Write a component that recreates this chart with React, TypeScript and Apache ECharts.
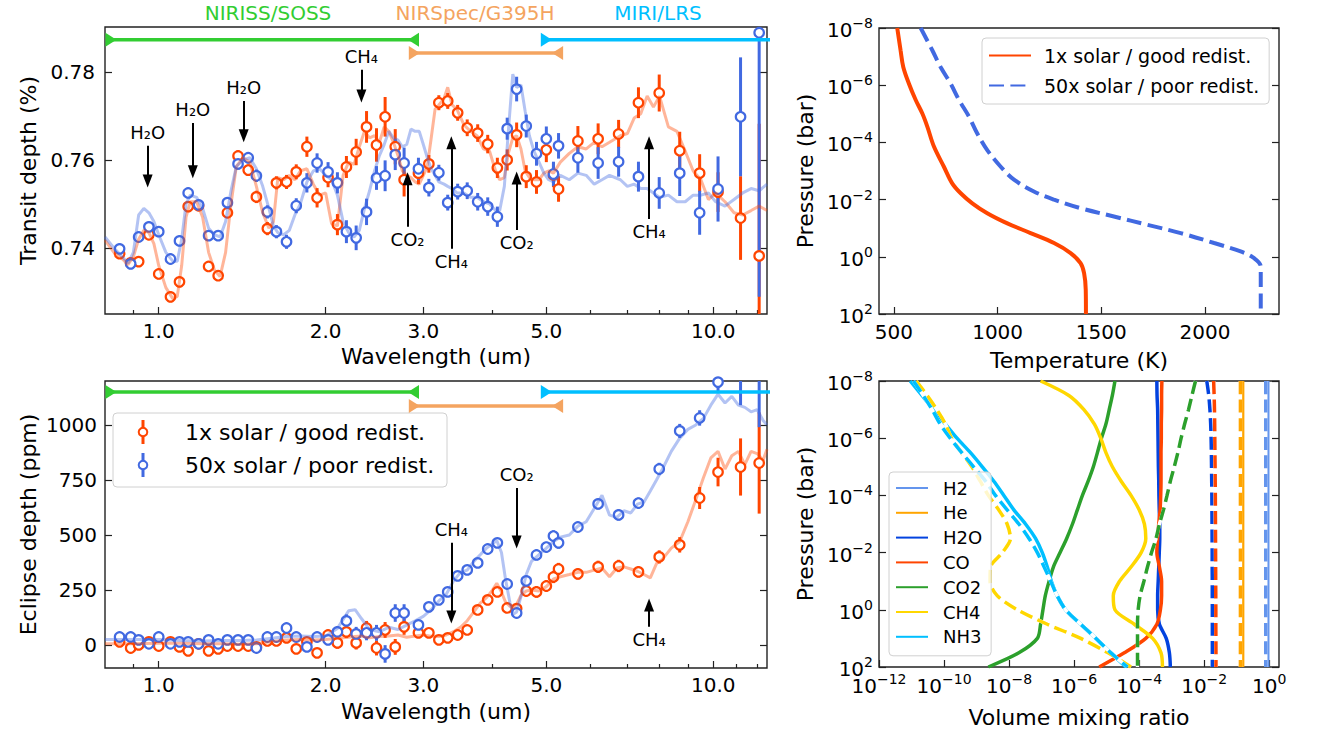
import React, { useEffect, useRef } from "react";
import * as echarts from "echarts";

const FONT = "DejaVu Sans";
const C1 = "#FF4500";
const C50 = "#4169E1";

// ---------- binned spectra ----------
const wavelengths = [0.85, 0.89, 0.92, 0.96, 1.0, 1.05, 1.09, 1.13, 1.18, 1.23, 1.28, 1.33, 1.39, 1.45, 1.5, 1.57, 1.63, 1.7, 1.77, 1.85, 1.93, 2.02, 2.1, 2.18, 2.27, 2.37, 2.47, 2.56, 2.67, 2.77, 2.94, 3.07, 3.2, 3.32, 3.46, 3.6, 3.76, 3.92, 4.08, 4.25, 4.42, 4.6, 4.8, 5.0, 5.15, 5.26, 5.7, 6.2, 6.75, 7.33, 7.99, 8.7, 9.45, 10.2, 11.2, 12.1];

const transit1x = [0.7387, 0.7366, 0.7369, 0.743, 0.7341, 0.7289, 0.7323, 0.7494, 0.7496, 0.7358,
  0.7337, 0.748, 0.7609, 0.7577, 0.7516, 0.7444, 0.7548, 0.755, 0.7573, 0.763,
  0.7514, 0.756, 0.7453, 0.7584, 0.7618, 0.7675, 0.7634, 0.7698, 0.763, 0.7555,
  0.757, 0.7591, 0.773, 0.7734, 0.7707, 0.7673, 0.7661, 0.7636, 0.7582, 0.76,
  0.7657, 0.7562, 0.755, 0.7623, 0.7566, 0.7534, 0.7643, 0.7648, 0.7659, 0.773,
  0.7752, 0.7621, 0.757, 0.7527, 0.7468, 0.7382];
const transit1xErr = [0.0012, 0.0012, 0.0012, 0.0012, 0.0012, 0.0012, 0.0012, 0.0012, 0.0012, 0.0012,
  0.0012, 0.0012, 0.0013, 0.0013, 0.0014, 0.0015, 0.0015, 0.0016, 0.0017, 0.0023,
  0.0022, 0.0022, 0.0024, 0.0025, 0.003, 0.0036, 0.0038, 0.0045, 0.004, 0.0038,
  0.0025, 0.002, 0.0017, 0.0018, 0.0018, 0.0019, 0.002, 0.0021, 0.0023, 0.0024,
  0.0028, 0.0026, 0.0027, 0.0028, 0.0028, 0.0029, 0.0034, 0.0035, 0.0032, 0.0035,
  0.0042, 0.0043, 0.0043, 0.0045, 0.0095, 0.03];
const transit50x = [0.7398, 0.7364, 0.7425, 0.7448, 0.7437, 0.7375, 0.7416, 0.7525, 0.7498, 0.7428,
  0.7428, 0.7503, 0.7591, 0.7605, 0.7564, 0.7482, 0.7437, 0.7414, 0.7496, 0.7548,
  0.7593, 0.7573, 0.7548, 0.7437, 0.7423, 0.7482, 0.7559, 0.7564, 0.7612, 0.7593,
  0.758, 0.7537, 0.7571, 0.7503, 0.7528, 0.753, 0.7505, 0.7494, 0.7471, 0.7671,
  0.7761, 0.7677, 0.7614, 0.7648, 0.7568, 0.7632, 0.7605, 0.7593, 0.7596, 0.7562,
  0.7525, 0.757, 0.748, 0.7534, 0.7698, 0.7889];
const transit50xErr = [0.0012, 0.0012, 0.0012, 0.0012, 0.0012, 0.0012, 0.0012, 0.0012, 0.0012, 0.0012,
  0.0012, 0.0012, 0.0013, 0.0013, 0.0014, 0.0015, 0.0015, 0.0016, 0.0017, 0.0022,
  0.0022, 0.0022, 0.0024, 0.0026, 0.0028, 0.003, 0.0027, 0.0035, 0.0035, 0.0035,
  0.0025, 0.002, 0.0018, 0.0018, 0.0018, 0.0019, 0.002, 0.0021, 0.0023, 0.0025,
  0.0028, 0.0026, 0.0027, 0.0028, 0.0028, 0.0029, 0.0034, 0.0036, 0.0034, 0.0034,
  0.0036, 0.0052, 0.005, 0.0074, 0.0135, 0.06];

const eclipse1x = [14, -14, 0, 14, -5, 14, -9, -27, 5, -27,
  -18, -5, -5, -5, -9, 18, 18, 32, -18, 14,
  -36, 45, 9, 59, 9, 77, -14, 68, -9, 82,
  55, 55, 23, 32, 45, 68, 159, 205, 241, 168,
  165, 245, 241, 268, 309, 345, 323, 355, 359, 332,
  400, 455, 668, 786, 809, 827];
const eclipse1xErr = [14, 14, 14, 14, 14, 14, 14, 14, 14, 14,
  14, 14, 14, 14, 14, 16, 16, 18, 18, 20,
  22, 24, 26, 28, 30, 32, 34, 36, 36, 36,
  20, 18, 16, 16, 16, 18, 20, 20, 22, 22,
  24, 24, 26, 26, 28, 28, 25, 28, 28, 25,
  30, 35, 50, 65, 130, 230];
const eclipse50x = [36, 36, 23, 5, 36, 5, 14, 14, 5, 23,
  5, 23, 23, 23, -14, 36, 36, 77, 36, -9,
  36, 23, 59, 109, 50, 55, 55, -41, 145, 145,
  91, 173, 205, 241, 314, 341, 373, 436, 464, 277,
  145, 291, 409, 445, 495, 464, 536, 641, 591, 645,
  800, 973, 1032, 1195, 1260, 1250];
const eclipse50xErr = [14, 14, 14, 14, 14, 14, 14, 14, 14, 14,
  14, 14, 14, 14, 16, 16, 16, 18, 18, 20,
  22, 24, 26, 30, 32, 34, 36, 40, 40, 40,
  20, 18, 16, 16, 16, 18, 18, 20, 22, 22,
  22, 24, 24, 24, 26, 26, 22, 25, 25, 25,
  28, 32, 35, 50, 170, 260];

// ---------- model spectra ----------
const transitModelWl = [0.8, 0.83, 0.86, 0.88, 0.9, 0.92, 0.94, 0.96, 0.98, 1.0, 1.03, 1.06, 1.08, 1.1, 1.12, 1.14, 1.17, 1.2, 1.23, 1.26, 1.29, 1.32, 1.35, 1.38, 1.42, 1.46, 1.5, 1.54, 1.58, 1.61, 1.64, 1.68, 1.72, 1.76, 1.8, 1.85, 1.9, 1.95, 2.0, 2.05, 2.1, 2.15, 2.2, 2.25, 2.3, 2.35, 2.4, 2.45, 2.5, 2.55, 2.6, 2.65, 2.7, 2.75, 2.8, 2.85, 2.9, 2.95, 3.0, 3.05, 3.1, 3.15, 3.2, 3.27, 3.32, 3.38, 3.45, 3.55, 3.65, 3.75, 3.85, 3.95, 4.05, 4.12, 4.2, 4.27, 4.35, 4.42, 4.5, 4.58, 4.66, 4.75, 4.85, 4.95, 5.05, 5.15, 5.3, 5.5, 5.7, 5.9, 6.1, 6.3, 6.5, 6.8, 7.0, 7.2, 7.4, 7.6, 7.8, 8.0, 8.3, 8.6, 8.9, 9.2, 9.5, 9.8, 10.1, 10.5, 10.9, 11.3, 11.7, 12.1, 12.5];
const transitModel1x = [0.7418, 0.739, 0.7375, 0.7362, 0.738, 0.742, 0.744, 0.7435, 0.741, 0.736, 0.731, 0.7285, 0.729, 0.736, 0.747, 0.7505, 0.7505, 0.747, 0.739, 0.735, 0.7335, 0.739, 0.75, 0.7585, 0.7605, 0.7595, 0.754, 0.748, 0.7445, 0.746, 0.756, 0.7555, 0.7565, 0.7555, 0.7575, 0.758, 0.7545, 0.752, 0.7525, 0.7455, 0.745, 0.7565, 0.7595, 0.759, 0.763, 0.7665, 0.765, 0.7655, 0.764, 0.7675, 0.7665, 0.764, 0.761, 0.7575, 0.7565, 0.756, 0.755, 0.7545, 0.7565, 0.7585, 0.765, 0.7715, 0.7725, 0.774, 0.7765, 0.7725, 0.7715, 0.768, 0.7665, 0.7655, 0.7625, 0.762, 0.7575, 0.7555, 0.756, 0.7615, 0.765, 0.7655, 0.7625, 0.7575, 0.756, 0.7555, 0.7555, 0.757, 0.7575, 0.757, 0.7595, 0.7615, 0.763, 0.7625, 0.764, 0.763, 0.764, 0.7655, 0.766, 0.7695, 0.7705, 0.7745, 0.772, 0.7745, 0.7675, 0.7665, 0.762, 0.7575, 0.7555, 0.751, 0.7525, 0.7505, 0.748, 0.7475, 0.7485, 0.7495, 0.7485];
const transitModel50x = [0.7425, 0.74, 0.738, 0.7365, 0.739, 0.7475, 0.749, 0.748, 0.746, 0.743, 0.739, 0.737, 0.737, 0.742, 0.75, 0.752, 0.7515, 0.749, 0.7445, 0.743, 0.7425, 0.746, 0.753, 0.7585, 0.76, 0.7605, 0.758, 0.754, 0.749, 0.745, 0.7435, 0.743, 0.744, 0.7475, 0.75, 0.755, 0.7575, 0.758, 0.7565, 0.7555, 0.752, 0.746, 0.7435, 0.7425, 0.744, 0.749, 0.753, 0.7575, 0.761, 0.7635, 0.7665, 0.765, 0.7645, 0.763, 0.7635, 0.767, 0.7665, 0.7665, 0.7635, 0.7605, 0.758, 0.7565, 0.755, 0.7545, 0.754, 0.7535, 0.7525, 0.7525, 0.7515, 0.7515, 0.7505, 0.75, 0.7485, 0.7485, 0.754, 0.7665, 0.7795, 0.7765, 0.777, 0.771, 0.7655, 0.762, 0.7595, 0.757, 0.7555, 0.755, 0.7565, 0.7555, 0.757, 0.7565, 0.7545, 0.7555, 0.7565, 0.7555, 0.754, 0.7545, 0.7535, 0.7535, 0.7525, 0.7515, 0.752, 0.7505, 0.7505, 0.752, 0.752, 0.7525, 0.7505, 0.7495, 0.751, 0.7525, 0.7535, 0.753, 0.7545];

const eclipseModelWl = [0.8, 0.9, 1.0, 1.1, 1.2, 1.3, 1.4, 1.5, 1.6, 1.7, 1.8, 1.9, 2.0, 2.1, 2.2, 2.26, 2.32, 2.4, 2.5, 2.6, 2.7, 2.8, 2.9, 3.0, 3.1, 3.2, 3.3, 3.4, 3.5, 3.6, 3.7, 3.8, 3.9, 4.0, 4.07, 4.15, 4.22, 4.3, 4.36, 4.42, 4.5, 4.6, 4.7, 4.85, 5.0, 5.15, 5.3, 5.5, 5.7, 5.9, 6.1, 6.3, 6.5, 6.7, 6.9, 7.1, 7.3, 7.5, 7.7, 7.9, 8.1, 8.4, 8.7, 9.0, 9.3, 9.6, 9.9, 10.2, 10.5, 10.8, 11.1, 11.4, 11.7, 12.0, 12.3, 12.5];
const eclipseModel1x = [5, 5, 8, 8, 5, 5, 3, 5, 15, 22, 25, 22, 25, 30, 35, 38, 40, 32, 38, 40, 45, 35, 40, 45, 40, 38, 45, 60, 80, 110, 150, 190, 215, 250, 280, 240, 195, 175, 170, 185, 225, 245, 250, 245, 265, 300, 310, 320, 330, 330, 340, 350, 310, 350, 355, 345, 335, 320, 305, 370, 390, 440, 470, 560, 660, 760, 850, 880, 800, 860, 880, 820, 880, 870, 840, 890];
const eclipseModel50x = [25, 25, 25, 20, 18, 20, 20, 22, 30, 38, 40, 38, 40, 75, 155, 160, 120, 70, 60, 80, 70, 90, 110, 130, 160, 200, 230, 290, 330, 340, 380, 410, 440, 460, 475, 420, 300, 190, 140, 150, 220, 320, 380, 410, 440, 470, 490, 500, 540, 560, 620, 680, 590, 580, 610, 600, 640, 650, 700, 750, 800, 880, 940, 980, 1000, 1030, 1090, 1140, 1100, 1130, 1090, 1080, 1060, 1070, 1020, 1000];

// ---------- instruments ----------
const instrumentNames = ["NIRISS/SOSS", "NIRSpec/G395H", "MIRI/LRS"];
const instrumentColors = ["#32CD32", "#F4A460", "#00BFFF"];
const instrumentStart = [0.82, 2.89, 5.0];
const instrumentEnd = [2.88, 5.24, 14];
const instrumentLevelTransit = [0.7873, 0.7843, 0.7873];
const instrumentLevelEclipse = [1150, 1086, 1150];

// ---------- annotations ----------
const transitAnnLabels = ["H₂O", "H₂O", "H₂O", "CH₄", "CO₂", "CH₄", "CO₂", "CH₄"];
const transitAnnWl = [0.955, 1.152, 1.423, 2.32, 2.81, 3.37, 4.42, 7.66];
const transitAnnFrom = [0.7632, 0.7684, 0.7734, 0.7805, 0.7448, 0.7398, 0.7441, 0.7466];
const transitAnnTo = [0.7552, 0.7573, 0.7655, 0.7745, 0.7557, 0.7639, 0.7559, 0.7639];
const eclipseAnnLabels = ["CH₄", "CO₂", "CH₄"];
const eclipseAnnWl = [3.37, 4.42, 7.66];
const eclipseAnnFrom = [464, 714, 82];
const eclipseAnnTo = [127, 468, 182];

// ---------- P-T profiles ----------
const pt1xPressure = [1e-8, 6e-8, 2.3e-7, 8.7e-7, 3.3e-6, 9.8e-6, 2.8e-5, 1.4e-4, 7.1e-4, 2.7e-3, 6.0e-3, 1.35e-2, 3.0e-2, 6.8e-2, 0.148, 0.33, 0.74, 1.66, 3.7, 14, 100];
const pt1xTemp = [516, 532, 545, 572, 605, 637, 661, 693, 741, 781, 822, 878, 950, 1047, 1159, 1272, 1352, 1400, 1417, 1425, 1426];
const pt50xPressure = [1e-8, 6e-8, 2.3e-7, 8.7e-7, 3.3e-6, 1.26e-5, 4.9e-5, 1.86e-4, 7.1e-4, 2.0e-3, 5.2e-3, 1.0e-2, 2.0e-2, 3.9e-2, 7.6e-2, 0.148, 0.33, 0.65, 1.12, 2.2, 100];
const pt50xTemp = [629, 685, 725, 773, 814, 862, 902, 950, 1015, 1079, 1175, 1272, 1400, 1561, 1722, 1883, 2044, 2172, 2237, 2269, 2269];

// ---------- abundance profiles ----------
const vmrPressure = [1e-8, 3.2e-8, 1e-7, 3.2e-7, 1e-6, 3.2e-6, 1e-5, 3.2e-5, 1e-4, 3.2e-4, 1e-3, 3.2e-3, 1e-2, 3.2e-2, 0.1, 0.32, 1, 3.2, 10, 32, 100];
const species = ["H2", "He", "H2O", "CO", "CO2", "CH4", "NH3"];
const speciesColors = ["#6495ED", "#FFA500", "#0343DF", "#FF4500", "#2CA02C", "#FFD700", "#00BFFF"];
const h2_1x = [0.9, 0.9, 0.9, 0.9, 0.9, 0.9, 0.9, 0.9, 0.9, 0.9, 0.9, 0.9, 0.9, 0.9, 0.9, 0.9, 0.9, 0.9, 0.9, 0.9, 0.9];
const he_1x = [0.152, 0.152, 0.152, 0.152, 0.152, 0.152, 0.152, 0.152, 0.152, 0.152, 0.152, 0.152, 0.152, 0.152, 0.152, 0.152, 0.152, 0.152, 0.152, 0.152, 0.152];
const h2o_1x = [3.5e-4, 3.55e-4, 3.7e-4, 3.75e-4, 3.8e-4, 3.85e-4, 3.9e-4, 4.0e-4, 4.05e-4, 4.15e-4, 4.3e-4, 4.3e-4, 4.15e-4, 4.0e-4, 3.85e-4, 3.7e-4, 3.7e-4, 4.2e-4, 6.8e-4, 8.5e-4, 9.1e-4];
const co_1x = [5.0e-4, 4.9e-4, 4.9e-4, 4.8e-4, 4.8e-4, 4.7e-4, 4.7e-4, 4.7e-4, 4.6e-4, 4.4e-4, 4.0e-4, 3.7e-4, 3.5e-4, 4.2e-4, 4.9e-4, 4.9e-4, 4.5e-4, 3.5e-4, 1.6e-4, 3.5e-5, 5.9e-6];
const co2_1x = [1.8e-5, 1.5e-5, 1.2e-5, 9.5e-6, 6.9e-6, 5.2e-6, 3.9e-6, 2.7e-6, 1.8e-6, 1.26e-6, 8.9e-7, 5.9e-7, 3.7e-7, 2.3e-7, 1.7e-7, 1.3e-7, 1.1e-7, 9.3e-8, 7.4e-8, 2.0e-8, 2.3e-9];
const ch4_1x = [9.3e-8, 6.9e-7, 2.0e-6, 4.2e-6, 6.6e-6, 9.5e-6, 1.5e-5, 2.8e-5, 5.6e-5, 1.0e-4, 1.45e-4, 1.6e-4, 1.15e-4, 5.6e-5, 2.5e-5, 1.6e-5, 1.8e-5, 7.1e-5, 2.6e-4, 4.7e-4, 5.2e-4];
const nh3_1x = [9.1e-12, 2.1e-11, 4.8e-11, 1.1e-10, 2.5e-10, 6.5e-10, 1.5e-9, 3.4e-9, 6.9e-9, 1.4e-8, 3.2e-8, 6.5e-8, 1.05e-7, 1.5e-7, 2.0e-7, 3.0e-7, 5.5e-7, 1.6e-6, 4.7e-6, 1.35e-5, 3.9e-5];
const h2_50x = [0.78, 0.78, 0.78, 0.78, 0.78, 0.78, 0.78, 0.78, 0.78, 0.78, 0.78, 0.78, 0.78, 0.78, 0.78, 0.78, 0.78, 0.78, 0.78, 0.78, 0.78];
const he_50x = [0.13, 0.13, 0.13, 0.13, 0.13, 0.13, 0.13, 0.13, 0.13, 0.13, 0.13, 0.13, 0.13, 0.13, 0.13, 0.13, 0.13, 0.13, 0.13, 0.13, 0.13];
const h2o_50x = [1.2e-2, 1.38e-2, 1.5e-2, 1.58e-2, 1.63e-2, 1.66e-2, 1.68e-2, 1.7e-2, 1.72e-2, 1.73e-2, 1.74e-2, 1.75e-2, 1.76e-2, 1.76e-2, 1.77e-2, 1.77e-2, 1.78e-2, 1.78e-2, 1.78e-2, 1.78e-2, 1.78e-2];
const co_50x = [1.95e-2, 2.02e-2, 2.07e-2, 2.1e-2, 2.12e-2, 2.14e-2, 2.16e-2, 2.18e-2, 2.2e-2, 2.21e-2, 2.22e-2, 2.23e-2, 2.24e-2, 2.25e-2, 2.26e-2, 2.27e-2, 2.28e-2, 2.28e-2, 2.29e-2, 2.3e-2, 2.3e-2];
const co2_50x = [5.4e-3, 4.2e-3, 3.3e-3, 2.5e-3, 1.95e-3, 1.55e-3, 1.2e-3, 9.1e-4, 7.2e-4, 5.6e-4, 4.2e-4, 3.3e-4, 2.4e-4, 1.8e-4, 1.4e-4, 1.07e-4, 9.3e-5, 8.9e-5, 8.9e-5, 8.9e-5, 8.9e-5];
const ch4_50x = [1.4e-11, 3.0e-11, 6.0e-11, 1.1e-10, 1.7e-10, 3.5e-10, 7.2e-10, 1.3e-9, 2.3e-9, 4.8e-9, 8.7e-9, 1.1e-8, 6.2e-9, 2.7e-9, 2.6e-9, 4.3e-9, 1.8e-8, 1.5e-7, 1.6e-6, 1.1e-5, 5.6e-5];
const nh3_50x = [1.15e-11, 2.3e-11, 4.3e-11, 7.6e-11, 1.55e-10, 3.5e-10, 8.1e-10, 1.9e-9, 3.8e-9, 8.7e-9, 2.0e-8, 4.1e-8, 7.4e-8, 1.2e-7, 1.9e-7, 3.0e-7, 5.5e-7, 1.6e-6, 4.7e-6, 1.35e-5, 4.4e-5];

// tick labels
const wlMajorTicks = [1, 2, 3, 5, 10];
const wlMinorTicks = [0.9, 4, 6, 7, 8, 9, 11, 12];
const transitTicks = [0.74, 0.76, 0.78];
const eclipseTicks = [0, 250, 500, 750, 1000];
const tempTicks = [500, 1000, 1500, 2000];
const logPressureTicks = [-8, -6, -4, -2, 0, 2];
const logVmrTicks = [-12, -10, -8, -6, -4, -2, 0];

const L = (v: number) => Math.log10(v);

function buildOption(): any {
  const tickStyle = { color: "#222", width: 1.2 };
  const labelBase = { fontSize: 20, color: "#000", fontFamily: FONT };
  const nameStyle = { fontSize: 22, color: "#000", fontFamily: FONT };
  const noLine = { show: false, onZero: false };
  const supRich = {
    b: { fontSize: 20, fontFamily: FONT, color: "#000", verticalAlign: "bottom", lineHeight: 24 },
    s: { fontSize: 14, fontFamily: FONT, color: "#000", verticalAlign: "top", lineHeight: 14 },
  };
  const powFmt = (v: number) => {
    const r = Math.round(v);
    return "{b|10}{s|" + (r < 0 ? "\u2212" + Math.abs(r) : String(r)) + "}";
  };
  const xMin = L(0.8);
  const xMax = L(12.5);

  const wlAxes = (gridIndex: number, nameGap: number) => [
    {
      type: "value", gridIndex, min: xMin, max: xMax, position: "bottom",
      axisLine: noLine, splitLine: { show: false },
      axisTick: { show: true, inside: true, length: 7, customValues: wlMajorTicks.map(L), lineStyle: tickStyle },
      axisLabel: { show: true, customValues: wlMajorTicks.map(L), formatter: (v: number) => Math.pow(10, v).toFixed(1), margin: 7, ...labelBase },
      name: "Wavelength (um)", nameLocation: "middle", nameGap, nameTextStyle: nameStyle,
    },
    {
      type: "value", gridIndex, min: xMin, max: xMax, position: "bottom",
      axisLine: noLine, splitLine: { show: false },
      axisTick: { show: true, inside: true, length: 4, customValues: wlMinorTicks.map(L), lineStyle: tickStyle },
      axisLabel: { show: false },
    },
  ];

  const yPair = (gridIndex: number, min: number, max: number, ticks: number[], fmt: any, name: string, nameGap: number, inverse: boolean, margin: number, rich?: any) => [
    {
      type: "value", gridIndex, min, max, inverse, position: "left",
      axisLine: noLine, splitLine: { show: false },
      axisTick: { show: true, inside: true, length: 7, customValues: ticks, lineStyle: tickStyle },
      axisLabel: { show: true, customValues: ticks, formatter: fmt, margin, ...labelBase, rich },
      name, nameLocation: "middle", nameGap, nameTextStyle: nameStyle,
    },
    {
      type: "value", gridIndex, min, max, inverse, position: "right",
      axisLine: noLine, splitLine: { show: false },
      axisTick: { show: true, inside: true, length: 7, customValues: ticks, lineStyle: tickStyle },
      axisLabel: { show: false },
    },
  ];

  const gridBase = { show: true, borderColor: "#222", borderWidth: 1.4, backgroundColor: "transparent", containLabel: false, outerBoundsMode: "none" };
  const grid = [
    { ...gridBase, left: 105, top: 27, width: 662, height: 287 },
    { ...gridBase, left: 105, top: 381, width: 662, height: 287 },
    { ...gridBase, left: 879, top: 28, width: 400, height: 286 },
    { ...gridBase, left: 879, top: 381, width: 400, height: 286 },
  ];

  const xAxis = [
    ...wlAxes(0, 31),
    ...wlAxes(1, 32),
    {
      type: "value", gridIndex: 2, min: 428, max: 2357, position: "bottom",
      axisLine: noLine, splitLine: { show: false },
      axisTick: { show: true, inside: true, length: 7, customValues: tempTicks, lineStyle: tickStyle },
      axisLabel: { show: true, customValues: tempTicks, formatter: (v: number) => String(Math.round(v)), margin: 8, ...labelBase },
      name: "Temperature (K)", nameLocation: "middle", nameGap: 35, nameTextStyle: nameStyle,
    },
    {
      type: "value", gridIndex: 3, min: -12, max: 0.3, position: "bottom",
      axisLine: noLine, splitLine: { show: false },
      axisTick: { show: true, inside: true, length: 7, customValues: logVmrTicks, lineStyle: tickStyle },
      axisLabel: { show: true, customValues: logVmrTicks, formatter: powFmt, margin: 5, ...labelBase, rich: supRich },
      name: "Volume mixing ratio", nameLocation: "middle", nameGap: 39, nameTextStyle: nameStyle,
    },
  ];

  const yAxis = [
    ...yPair(0, 0.725, 0.7902, transitTicks, (v: number) => v.toFixed(2), "Transit depth (%)", 66, false, 10),
    ...yPair(1, -105, 1200, eclipseTicks, (v: number) => String(Math.round(v)), "Eclipse depth (ppm)", 66, false, 8),
    ...yPair(2, -8, 2, logPressureTicks, powFmt, "Pressure (bar)", 63, true, 6, supRich),
    ...yPair(3, -8, 2, logPressureTicks, powFmt, "Pressure (bar)", 63, true, 6, supRich),
  ];

  const series: any[] = [];

  const modelLine = (name: string, xi: number, yi: number, wl: number[], vals: number[], color: string) => ({
    type: "line", name, xAxisIndex: xi, yAxisIndex: yi, silent: true, symbol: "none", clip: true,
    data: wl.map((w, i) => [L(w), vals[i]]),
    lineStyle: { color, width: 3, opacity: 0.4 },
  });
  const errSeries = (name: string, xi: number, yi: number, vals: number[], errs: number[], color: string) => ({
    type: "custom", name, xAxisIndex: xi, yAxisIndex: yi, silent: true, clip: true,
    data: wavelengths.map((w, i) => [L(w), vals[i], errs[i]]),
    encode: { x: 0, y: 1 },
    renderItem: (params: any, api: any) => {
      const x = api.value(0);
      const y = api.value(1);
      const e = api.value(2);
      const a = api.coord([x, y - e]);
      const b = api.coord([x, y + e]);
      return { type: "line", shape: { x1: a[0], y1: a[1], x2: b[0], y2: b[1] }, style: { stroke: color, lineWidth: 3 } };
    },
  });
  const pointSeries = (name: string, xi: number, yi: number, vals: number[], color: string) => ({
    type: "scatter", name, xAxisIndex: xi, yAxisIndex: yi, silent: true, clip: true,
    symbol: "circle", symbolSize: 9.5,
    itemStyle: { color: "#fff", borderColor: color, borderWidth: 2.2, opacity: 1 },
    data: wavelengths.map((w, i) => [L(w), vals[i]]),
  });
  const instrumentSeries = (xi: number, yi: number, levels: number[]) =>
    instrumentNames.map((n, k) => ({
      type: "line", name: n + " range " + xi, xAxisIndex: xi, yAxisIndex: yi, silent: true, clip: true,
      symbol: "triangle", symbolSize: [14, 11], showSymbol: true,
      data: [
        { value: [L(instrumentStart[k]), levels[k]], symbolRotate: -90 },
        { value: [L(instrumentEnd[k]), levels[k]], symbolRotate: 90 },
      ],
      lineStyle: { color: instrumentColors[k], width: 3.5 },
      itemStyle: { color: instrumentColors[k] },
    }));
  const annSeries = (xi: number, yi: number, labels: string[], wl: number[], from: number[], to: number[]) => ({
    type: "line", name: "annotations " + xi, xAxisIndex: xi, yAxisIndex: yi, silent: true, data: [],
    markLine: {
      silent: true, animation: false, precision: 6,
      symbol: ["none", "triangle"], symbolSize: [10, 13],
      lineStyle: { color: "#000", width: 2, type: "solid" },
      label: { show: true, position: "start", distance: 4, color: "#000", fontSize: 18, fontFamily: FONT, formatter: (p: any) => p.name },
      emphasis: { disabled: true },
      data: labels.map((lab, i) => [
        { coord: [L(wl[i]), from[i]], name: lab },
        { coord: [L(wl[i]), to[i]], name: lab },
      ]),
    },
  });

  // Transit panel
  series.push(modelLine("transit model 1x", 0, 0, transitModelWl, transitModel1x, C1));
  series.push(modelLine("transit model 50x", 0, 0, transitModelWl, transitModel50x, C50));
  series.push(...instrumentSeries(0, 0, instrumentLevelTransit));
  series.push(errSeries("transit err 1x", 0, 0, transit1x, transit1xErr, C1));
  series.push(pointSeries("transit 1x", 0, 0, transit1x, C1));
  series.push(errSeries("transit err 50x", 0, 0, transit50x, transit50xErr, C50));
  series.push(pointSeries("transit 50x", 0, 0, transit50x, C50));
  series.push(annSeries(0, 0, transitAnnLabels, transitAnnWl, transitAnnFrom, transitAnnTo));

  // Eclipse panel
  series.push(modelLine("eclipse model 1x", 2, 2, eclipseModelWl, eclipseModel1x, C1));
  series.push(modelLine("eclipse model 50x", 2, 2, eclipseModelWl, eclipseModel50x, C50));
  series.push(...instrumentSeries(2, 2, instrumentLevelEclipse));
  series.push(errSeries("eclipse err 1x", 2, 2, eclipse1x, eclipse1xErr, C1));
  series.push(pointSeries("eclipse 1x", 2, 2, eclipse1x, C1));
  series.push(errSeries("eclipse err 50x", 2, 2, eclipse50x, eclipse50xErr, C50));
  series.push(pointSeries("eclipse 50x", 2, 2, eclipse50x, C50));
  series.push(annSeries(2, 2, eclipseAnnLabels, eclipseAnnWl, eclipseAnnFrom, eclipseAnnTo));

  // P-T panel
  series.push({
    type: "line", name: "1x solar / good redist.", xAxisIndex: 4, yAxisIndex: 4, silent: true, symbol: "none", smooth: 0.35, clip: true,
    data: pt1xTemp.map((t, i) => [t, L(pt1xPressure[i])]),
    lineStyle: { color: C1, width: 4 }, itemStyle: { color: C1 },
  });
  series.push({
    type: "line", name: "50x solar / poor redist.", xAxisIndex: 4, yAxisIndex: 4, silent: true, symbol: "none", smooth: 0.35, clip: true,
    data: pt50xTemp.map((t, i) => [t, L(pt50xPressure[i])]),
    lineStyle: { color: C50, width: 4, type: [15, 6.4] }, itemStyle: { color: C50 },
  });

  // VMR panel
  const profiles1x = [h2_1x, he_1x, h2o_1x, co_1x, co2_1x, ch4_1x, nh3_1x];
  const profiles50x = [h2_50x, he_50x, h2o_50x, co_50x, co2_50x, ch4_50x, nh3_50x];
  species.forEach((sp, k) => {
    series.push({
      type: "line", name: sp, xAxisIndex: 5, yAxisIndex: 6, silent: true, symbol: "none", smooth: 0.3, clip: true,
      data: profiles1x[k].map((v, i) => [L(v), L(vmrPressure[i])]),
      lineStyle: { color: speciesColors[k], width: 3.5 }, itemStyle: { color: speciesColors[k] },
    });
  });
  species.forEach((sp, k) => {
    const d = profiles50x[k].map((v, i) => [L(v), L(vmrPressure[i])]);
    series.push({
      type: "line", name: sp + " 50x gap", xAxisIndex: 5, yAxisIndex: 6, silent: true, symbol: "none", smooth: 0.3, clip: true,
      data: d, lineStyle: { color: "#fff", width: 3.5 },
    });
    series.push({
      type: "line", name: sp + " 50x", xAxisIndex: 5, yAxisIndex: 6, silent: true, symbol: "none", smooth: 0.3, clip: true,
      data: d, lineStyle: { color: speciesColors[k], width: 3.5, type: [13, 5.6] },
    });
  });

  const legendBase = {
    orient: "vertical", selectedMode: false, backgroundColor: "rgba(255,255,255,0.8)",
    borderColor: "#d0d0d0", borderWidth: 1, borderRadius: 4, itemHeight: 14,
    itemStyle: { opacity: 0 },
  };
  const legend = [
    {
      ...legendBase, data: ["1x solar / good redist.", "50x solar / poor redist."],
      left: 982, top: 38, itemWidth: 42, itemGap: 11, padding: [8, 10, 9, 6],
      textStyle: { fontSize: 19, fontFamily: FONT, color: "#000", padding: [0, 0, 0, 8] },
    },
    {
      ...legendBase, data: species,
      left: 889, top: 472, itemWidth: 32, itemGap: 6.8, padding: [7, 9, 10, 6],
      textStyle: { fontSize: 18, fontFamily: FONT, color: "#000", padding: [0, 0, 0, 10] },
    },
  ];

  const textStyle = (text: string, fill: string, size: number, extra: any = {}) => ({
    text, fill, fontSize: size, fontFamily: FONT, ...extra,
  });
  const graphic: any[] = [
    ...instrumentNames.map((n, k) => ({
      type: "text", x: [268, 475, 658][k], y: 13, silent: true,
      style: textStyle(n, instrumentColors[k], 20, { align: "center", verticalAlign: "middle", textAlign: "center", textVerticalAlign: "middle" }),
    })),
    {
      type: "rect", silent: true, shape: { x: 113, y: 413, width: 334, height: 74, r: 4 },
      style: { fill: "rgba(255,255,255,0.8)", stroke: "#d0d0d0", lineWidth: 1 },
    },
    ...[
      { label: "1x solar / good redist.", color: C1, y: 432 },
      { label: "50x solar / poor redist.", color: C50, y: 465 },
    ].flatMap((it) => [
      { type: "line", silent: true, shape: { x1: 143, y1: it.y - 12, x2: 143, y2: it.y + 12 }, style: { stroke: it.color, lineWidth: 3 } },
      { type: "circle", silent: true, shape: { cx: 143, cy: it.y, r: 4.3 }, style: { fill: "#fff", stroke: it.color, lineWidth: 2 } },
      { type: "text", silent: true, x: 185, y: it.y, style: textStyle(it.label, "#000", 22, { verticalAlign: "middle", textVerticalAlign: "middle" }) },
    ]),
  ];

  return {
    animation: false,
    backgroundColor: "#fff",
    textStyle: { fontFamily: FONT },
    grid, xAxis, yAxis, series, legend, graphic,
  };
}

export default function App() {
  const ref = useRef<HTMLDivElement>(null);
  useEffect(() => {
    const chart = echarts.init(ref.current as HTMLDivElement, null, { renderer: "svg" });
    chart.setOption(buildOption());
    return () => chart.dispose();
  }, []);
  return <div ref={ref} style={{ position: "absolute", left: 0, top: 0, width: 1333, height: 733, background: "#fff" }} />;
}
